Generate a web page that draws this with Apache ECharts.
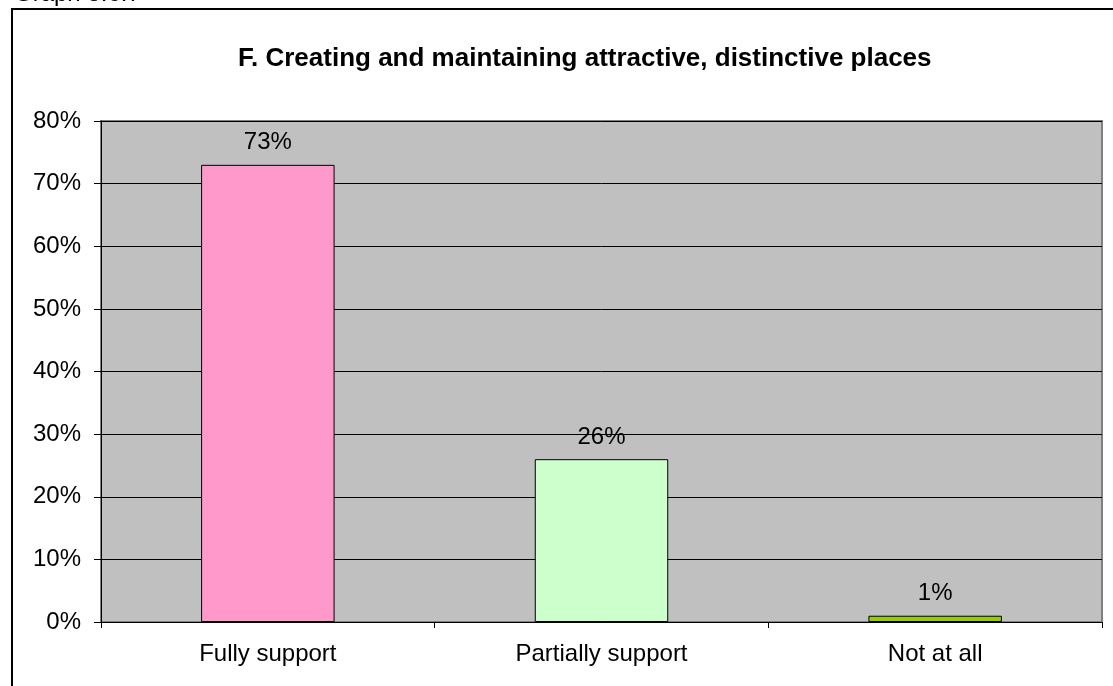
<!DOCTYPE html>
<html>
<head>
<meta charset="utf-8">
<script src="https://cdn.jsdelivr.net/npm/echarts@6/dist/echarts.min.js"></script>
<style>
  html, body { margin: 0; padding: 0; background: #ffffff; }
  #chart { width: 1113px; height: 686px; }
</style>
</head>
<body>
<div id="chart"></div>
<script>
// Survey responses for theme F
const categories = ['Fully support', 'Partially support', 'Not at all'];
const shares = [73, 26, 1];
const barColors = ['#FF99CC', '#CCFFCC', '#99CC00'];
const yTicks = [0, 10, 20, 30, 40, 50, 60, 70, 80];

const FONT = '"Liberation Sans", Arial, sans-serif';

const chart = echarts.init(document.getElementById('chart'), null, { renderer: 'canvas' });

chart.setOption({
  animation: false,
  backgroundColor: '#ffffff',
  title: {
    text: 'F. Creating and maintaining attractive, distinctive places',
    left: 238,
    top: 46,
    padding: 0,
    textStyle: { fontFamily: FONT, fontSize: 26, fontWeight: 'bold', color: '#000000' }
  },
  graphic: [
    {
      type: 'text',
      left: 14,
      top: -18,
      style: { text: 'Graph 3.6.7', font: '24px ' + FONT, fill: '#000000' }
    },
    {
      type: 'rect',
      shape: { x: 12, y: 9, width: 1140, height: 720 },
      style: { fill: 'none', stroke: '#000000', lineWidth: 2 },
      silent: true
    }
  ],
  grid: {
    left: 101,
    top: 121,
    right: 11,
    bottom: 64,
    show: true,
    backgroundColor: '#C0C0C0',
    borderColor: '#808080',
    borderWidth: 2
  },
  xAxis: {
    type: 'category',
    data: categories,
    axisLine: { show: true, lineStyle: { color: '#000000', width: 1 } },
    axisTick: { show: true, length: 6, alignWithLabel: false, lineStyle: { color: '#000000' } },
    axisLabel: { fontFamily: FONT, fontSize: 24, color: '#000000', margin: 20 },
    splitLine: { show: false }
  },
  yAxis: {
    type: 'value',
    min: yTicks[0],
    max: yTicks[yTicks.length - 1],
    interval: 10,
    axisLine: { show: true, lineStyle: { color: '#000000', width: 1 } },
    axisTick: { show: true, length: 7, lineStyle: { color: '#000000' } },
    axisLabel: {
      fontFamily: FONT, fontSize: 24, color: '#000000', margin: 20,
      formatter: v => v + '%'
    },
    splitLine: { show: true, lineStyle: { color: '#000000', width: 1 } }
  },
  series: [{
    type: 'bar',
    barWidth: '40%',
    data: shares.map((v, i) => ({
      value: v,
      itemStyle: { color: barColors[i], borderColor: '#000000', borderWidth: 1 }
    })),
    label: {
      show: true,
      position: 'top',
      distance: 10,
      fontFamily: FONT,
      fontSize: 24,
      color: '#000000',
      formatter: p => p.value + '%'
    }
  }]
});
</script>
</body>
</html>
